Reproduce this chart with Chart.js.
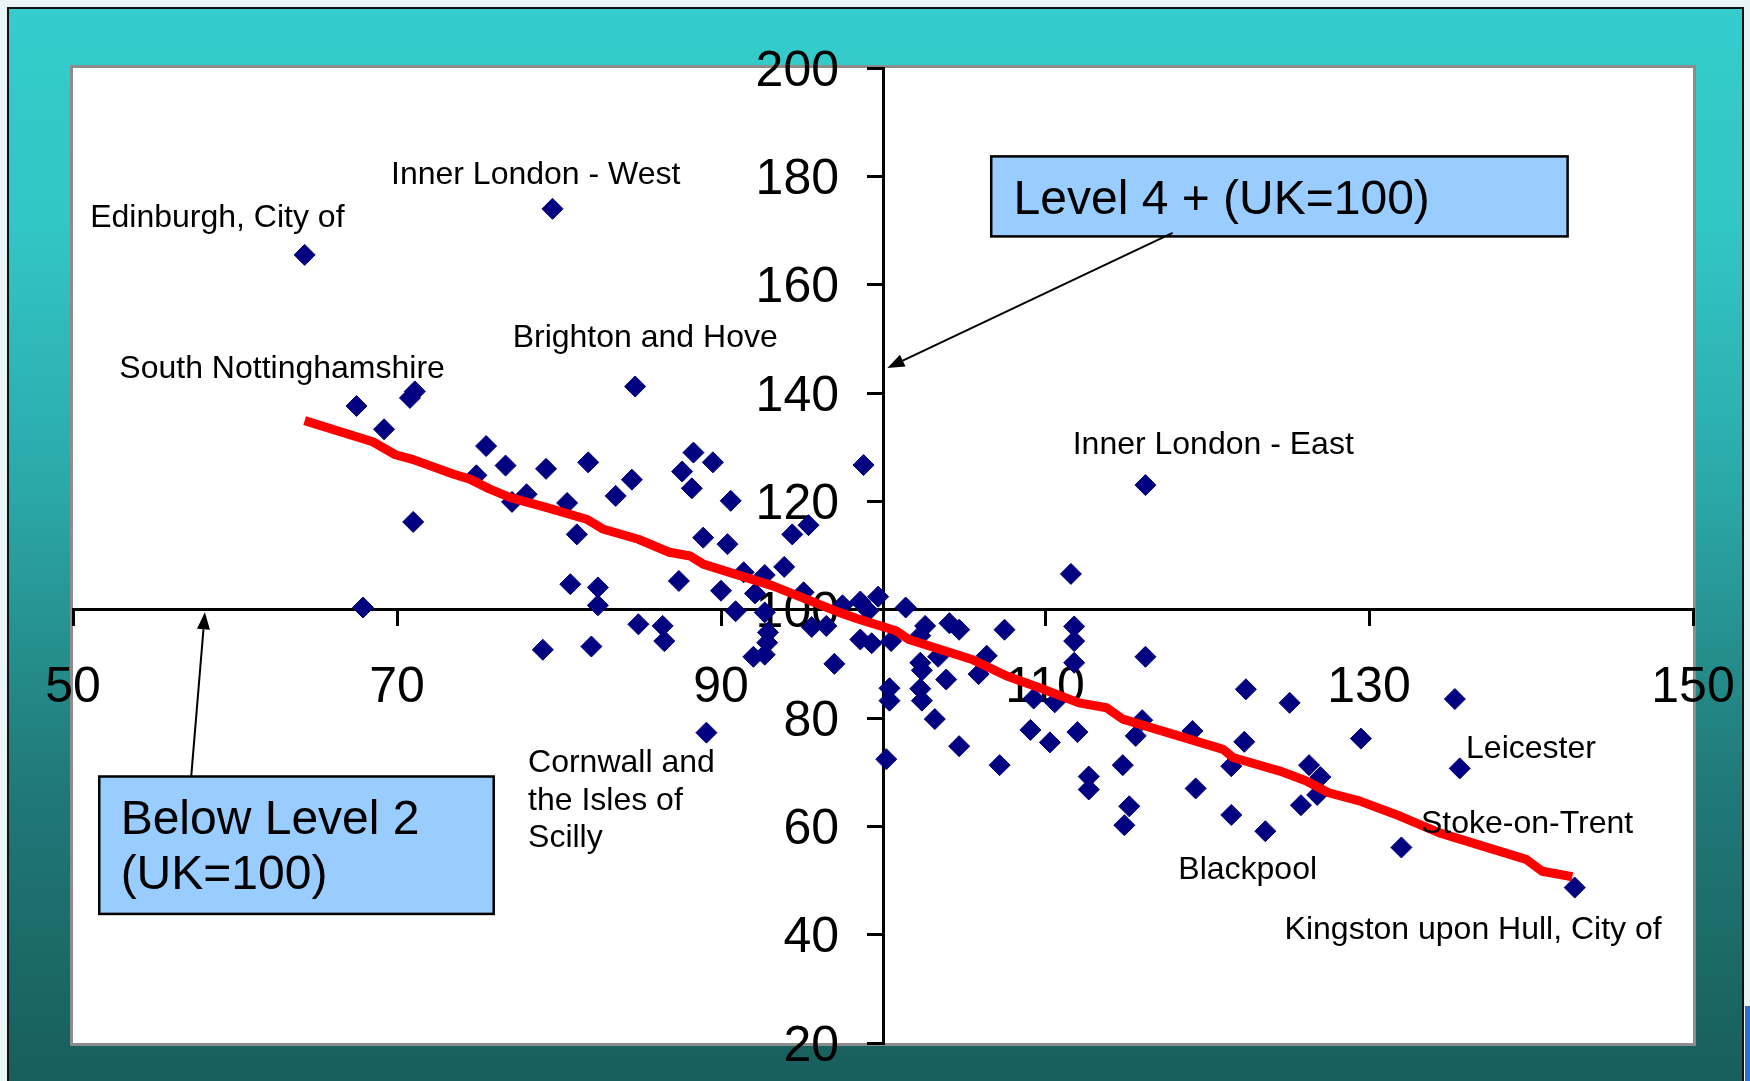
<!DOCTYPE html>
<html>
<head>
<meta charset="utf-8">
<title>Qualifications by area (UK=100)</title>
<script src="https://cdn.jsdelivr.net/npm/chart.js@4.4.1/dist/chart.umd.min.js"></script>
<style>
  html, body { margin: 0; padding: 0; background: #e9f4f7; }
  canvas { display: block; }
</style>
</head>
<body>
<canvas id="chart" width="1750" height="1081"></canvas>
<script>
// Below Level 2 index (UK=100) for each area
const belowLevel2 = [
  64.3, 67.5, 67.9, 69.2, 70.8, 71.1, 71.0, 74.9, 75.5, 76.7,
  77.1, 78.0, 79.0, 79.2, 79.6, 80.5, 80.7, 81.1, 81.8, 82.0,
  82.4, 82.4, 83.5, 84.5, 84.7, 84.9, 86.4, 86.5, 87.4, 87.6,
  88.2, 88.3, 88.9, 89.1, 89.5, 90.0, 90.4, 90.6, 90.9, 91.4,
  92.0, 92.1, 92.7, 92.7, 92.7, 92.9, 92.85, 93.9, 94.4, 95.4,
  95.1, 95.6, 96.5, 97.0, 97.5, 98.6, 98.6, 98.8, 99.1, 99.3,
  99.7, 100.2, 100.4, 100.4, 100.5, 101.4, 102.3, 102.6, 102.3, 102.4,
  102.3, 102.4, 103.2, 103.4, 103.9, 104.1, 104.7, 104.7, 105.9, 106.4,
  107.2, 107.5, 109.1, 109.3, 110.3, 110.6, 111.6, 111.8, 111.8, 111.8,
  112.0, 112.7, 112.7, 114.8, 114.9, 115.2, 115.6, 116.0, 116.2, 116.2,
  119.1, 119.3, 121.5, 121.5, 122.3, 122.4, 123.6, 125.1, 125.8, 126.3,
  126.8, 127.0, 129.5, 132.0, 135.3, 135.6, 142.7
];

// Level 4+ index (UK=100) for the same areas
const level4Plus = [
  165.5, 137.6, 100.4, 133.3, 139.1, 140.3, 116.2, 124.8, 130.2, 126.6,
  119.9, 121.3, 92.6, 126.0, 174.0, 119.7, 104.7, 113.9, 127.2, 93.2,
  104.1, 100.8, 121.0, 124.0, 141.2, 97.3, 97.0, 94.2, 105.3, 125.5,
  122.4, 129.0, 113.3, 77.3, 127.2, 103.5, 112.1, 120.1, 99.7, 106.9,
  91.3, 103.0, 106.4, 99.5, 91.7, 95.8, 93.9, 107.9, 113.9, 115.6,
  103.2, 96.8, 97.0, 90.0, 100.8, 101.5, 94.5, 126.7, 99.8, 93.8,
  102.4, 72.4, 85.5, 83.2, 94.2, 100.4, 95.2, 97.0, 90.2, 88.8,
  85.4, 83.2, 79.8, 91.3, 87.1, 97.5, 96.3, 74.8, 88.1, 91.5,
  71.3, 96.3, 77.8, 83.6, 75.5, 82.9, 106.6, 96.9, 94.2, 90.2,
  77.4, 69.2, 66.8, 71.3, 60.2, 63.7, 76.7, 79.6, 91.3, 123.0,
  77.6, 67.0, 71.1, 62.1, 75.6, 85.3, 59.1, 82.8, 63.9, 71.3,
  65.8, 69.1, 76.2, 56.1, 83.5, 70.7, 48.7
];

// Fitted trend through the scatter
const trendX = [
  64.3, 68.5, 69.9, 71.0, 73.5, 74.5, 75.7, 77.0, 79.2, 81.7,
  82.7, 84.9, 86.8, 88.1, 88.9, 93.2, 97.3, 98.55, 100.8, 101.6,
  105.5, 107.6, 109.65, 112.1, 113.8, 114.8, 121.0, 121.6, 124.5, 126.1,
  127.5, 129.4, 131.9, 134.35, 139.7, 140.7, 142.55
];
const trendY = [
  134.9, 131.0, 128.6, 127.7, 125.0, 124.1, 122.3, 120.7, 118.9, 116.7,
  114.9, 113.0, 110.6, 109.9, 108.4, 104.4, 99.5, 98.2, 96.1, 94.5,
  90.8, 87.8, 85.6, 82.8, 81.9, 79.8, 74.2, 72.7, 70.2, 68.4,
  66.2, 64.7, 61.9, 58.8, 53.9, 51.7, 50.7
];

// Axis ticks
const xTicks = [50, 70, 90, 110, 130, 150];
const yTicks = [20, 40, 60, 80, 100, 120, 140, 160, 180, 200];

// Named areas
const areaNames = [
  'Inner London - West', 'Edinburgh, City of', 'South Nottinghamshire',
  'Brighton and Hove', 'Inner London - East', 'Cornwall and\nthe Isles of\nScilly',
  'Leicester', 'Stoke-on-Trent', 'Blackpool', 'Kingston upon Hull, City of'
];

// Where each area name sits (left edge, first baseline) in axis units
const nameAnchors = [
  [69.63, 178.58], [51.06, 170.68], [52.86, 142.79],
  [77.14, 148.47], [111.71, 128.68], [78.09, 69.99],
  [135.99, 72.56], [133.21, 58.82], [118.23, 50.22], [124.79, 39.27]
];

// Axis call-out boxes (axis units)
const callouts = [
  { lines: ['Level 4 + (UK=100)'], box: [106.68, 183.68, 142.26, 168.91],
    text: [108.06, 172.99], arrow: [117.88, 169.56, 100.27, 144.63] },
  { lines: ['Below Level 2', '(UK=100)'], box: [51.62, 69.2, 75.97, 43.83],
    text: [52.94, 58.57], arrow: [57.30, 69.33, 58.14, 99.51] }
];

const FONT = "'Liberation Sans', Arial, sans-serif";

const points = belowLevel2.map((x, i) => ({ x: x, y: level4Plus[i] }));
const trend = trendX.map((x, i) => ({ x: x, y: trendY[i] }));

// Slide frame, teal gradient and white plot panel
const framePlugin = {
  id: 'frame',
  beforeDraw(chart) {
    const ctx = chart.ctx;
    const W = chart.width, H = chart.height;
    const ca = chart.chartArea;
    ctx.save();
    ctx.fillStyle = '#e9f4f7';
    ctx.fillRect(0, 0, W, H);
    const g = ctx.createLinearGradient(0, 8, 0, H);
    g.addColorStop(0, 'rgb(52,204,204)');
    g.addColorStop(0.2, 'rgb(50,198,198)');
    g.addColorStop(0.45, 'rgb(43,168,168)');
    g.addColorStop(0.72, 'rgb(32,122,120)');
    g.addColorStop(1, 'rgb(24,94,92)');
    ctx.fillStyle = g;
    ctx.fillRect(8, 8, 1735, H);
    ctx.strokeStyle = '#111';
    ctx.lineWidth = 2;
    ctx.strokeRect(8, 8, 1735, H + 10);
    ctx.fillStyle = '#2a73c9';
    ctx.fillRect(1745, 1006, 5, H - 1006);
    ctx.fillStyle = '#ffffff';
    ctx.fillRect(ca.left, ca.top, ca.right - ca.left, ca.bottom - ca.top);
    ctx.strokeStyle = '#8c8c8c';
    ctx.lineWidth = 3;
    ctx.strokeRect(ca.left - 1.5, ca.top - 1.5, ca.right - ca.left + 3, ca.bottom - ca.top + 3);
    ctx.restore();
  }
};

function drawArrow(ctx, x1, y1, x2, y2) {
  const ang = Math.atan2(y2 - y1, x2 - x1);
  const len = 17, half = 6.5;
  const bx = x2 - Math.cos(ang) * len, by = y2 - Math.sin(ang) * len;
  ctx.beginPath();
  ctx.moveTo(x1, y1);
  ctx.lineTo(bx, by);
  ctx.stroke();
  ctx.beginPath();
  ctx.moveTo(x2, y2);
  ctx.lineTo(bx + Math.sin(ang) * half, by - Math.cos(ang) * half);
  ctx.lineTo(bx - Math.sin(ang) * half, by + Math.cos(ang) * half);
  ctx.closePath();
  ctx.fill();
}

// Area names, call-out boxes and arrows
const notesPlugin = {
  id: 'notes',
  afterDatasetsDraw(chart) {
    const ctx = chart.ctx;
    const xs = chart.scales.x, ys = chart.scales.y;
    const px = v => xs.getPixelForValue(v);
    const py = v => ys.getPixelForValue(v);
    ctx.save();
    ctx.fillStyle = '#000';
    ctx.textAlign = 'left';
    ctx.textBaseline = 'alphabetic';
    ctx.font = '32px ' + FONT;
    areaNames.forEach((name, i) => {
      const [u, v] = nameAnchors[i];
      name.split('\n').forEach((line, k) => {
        ctx.fillText(line, px(u), py(v) + k * 37.6);
      });
    });

    callouts.forEach(c => {
      const [u1, v1, u2, v2] = c.box;
      const x1 = px(u1), y1 = py(v1), x2 = px(u2), y2 = py(v2);
      ctx.fillStyle = '#99ccff';
      ctx.fillRect(x1, y1, x2 - x1, y2 - y1);
      ctx.strokeStyle = '#000';
      ctx.lineWidth = 2.5;
      ctx.strokeRect(x1, y1, x2 - x1, y2 - y1);
      ctx.fillStyle = '#000';
      ctx.font = '48px ' + FONT;
      c.lines.forEach((line, k) => {
        ctx.fillText(line, px(c.text[0]), py(c.text[1]) + k * 55);
      });
      ctx.lineWidth = 2;
      const [a1, b1, a2, b2] = c.arrow;
      drawArrow(ctx, px(a1), py(b1), px(a2), py(b2));
    });
    ctx.restore();
  }
};

// Axes cross at (100, 100): label overhang must not shrink the plot panel
function noOverhang(scale) {
  scale.paddingLeft = 0;
  scale.paddingRight = 0;
  scale.paddingTop = 0;
  scale.paddingBottom = 0;
}

// Offset a crossing axis' tick labels away from the axis line
function offsetLabels(dx, dy) {
  return function (scale) {
    if (scale.__offsetWrapped || typeof scale._computeLabelItems !== 'function') return;
    const base = scale._computeLabelItems;
    scale._computeLabelItems = function (area) {
      const items = base.call(this, area);
      items.forEach(it => {
        const t = it.options && it.options.translation;
        if (t) { t[0] += dx; t[1] += dy; }
      });
      return items;
    };
    scale.__offsetWrapped = true;
  };
}

new Chart(document.getElementById('chart'), {
  type: 'scatter',
  data: {
    datasets: [
      {
        type: 'line',
        label: 'Trend',
        data: trend,
        borderColor: '#ff0000',
        borderWidth: 9,
        borderCapStyle: 'butt',
        borderJoinStyle: 'round',
        pointRadius: 0,
        fill: false,
        tension: 0
      },
      {
        label: 'Areas',
        data: points,
        pointStyle: 'rectRot',
        pointRadius: 10.5,
        pointBackgroundColor: '#000080',
        pointBorderColor: '#000080',
        pointBorderWidth: 1
      }
    ]
  },
  options: {
    responsive: false,
    animation: false,
    devicePixelRatio: 1,
    layout: { padding: { left: 73, top: 68, right: 57, bottom: 38 } },
    plugins: { legend: { display: false }, tooltip: { enabled: false } },
    scales: {
      x: {
        type: 'linear',
        min: 50, max: 150,
        position: { y: 100 },
        afterBuildTicks: s => { s.ticks = xTicks.map(v => ({ value: v })); },
        afterFit: noOverhang,
        ticks: {
          color: '#000',
          font: { family: FONT, size: 50 },
          padding: 34,
          maxRotation: 0,
          autoSkip: false
        },
        grid: { drawOnChartArea: false, drawTicks: true, tickLength: 15, color: '#000', lineWidth: 3 },
        border: { display: true, color: '#000', width: 3 }
      },
      y: {
        type: 'linear',
        min: 20, max: 200,
        position: { x: 100 },
        afterBuildTicks: s => { s.ticks = yTicks.map(v => ({ value: v })); },
        afterFit: noOverhang,
        afterUpdate: offsetLabels(-44, 4),
        ticks: {
          color: '#000',
          font: { family: FONT, size: 50 },
          padding: 0,
          autoSkip: false
        },
        grid: { drawOnChartArea: false, drawTicks: true, tickLength: 15, color: '#000', lineWidth: 3 },
        border: { display: true, color: '#000', width: 3 }
      }
    }
  },
  plugins: [framePlugin, notesPlugin]
});
</script>
</body>
</html>
